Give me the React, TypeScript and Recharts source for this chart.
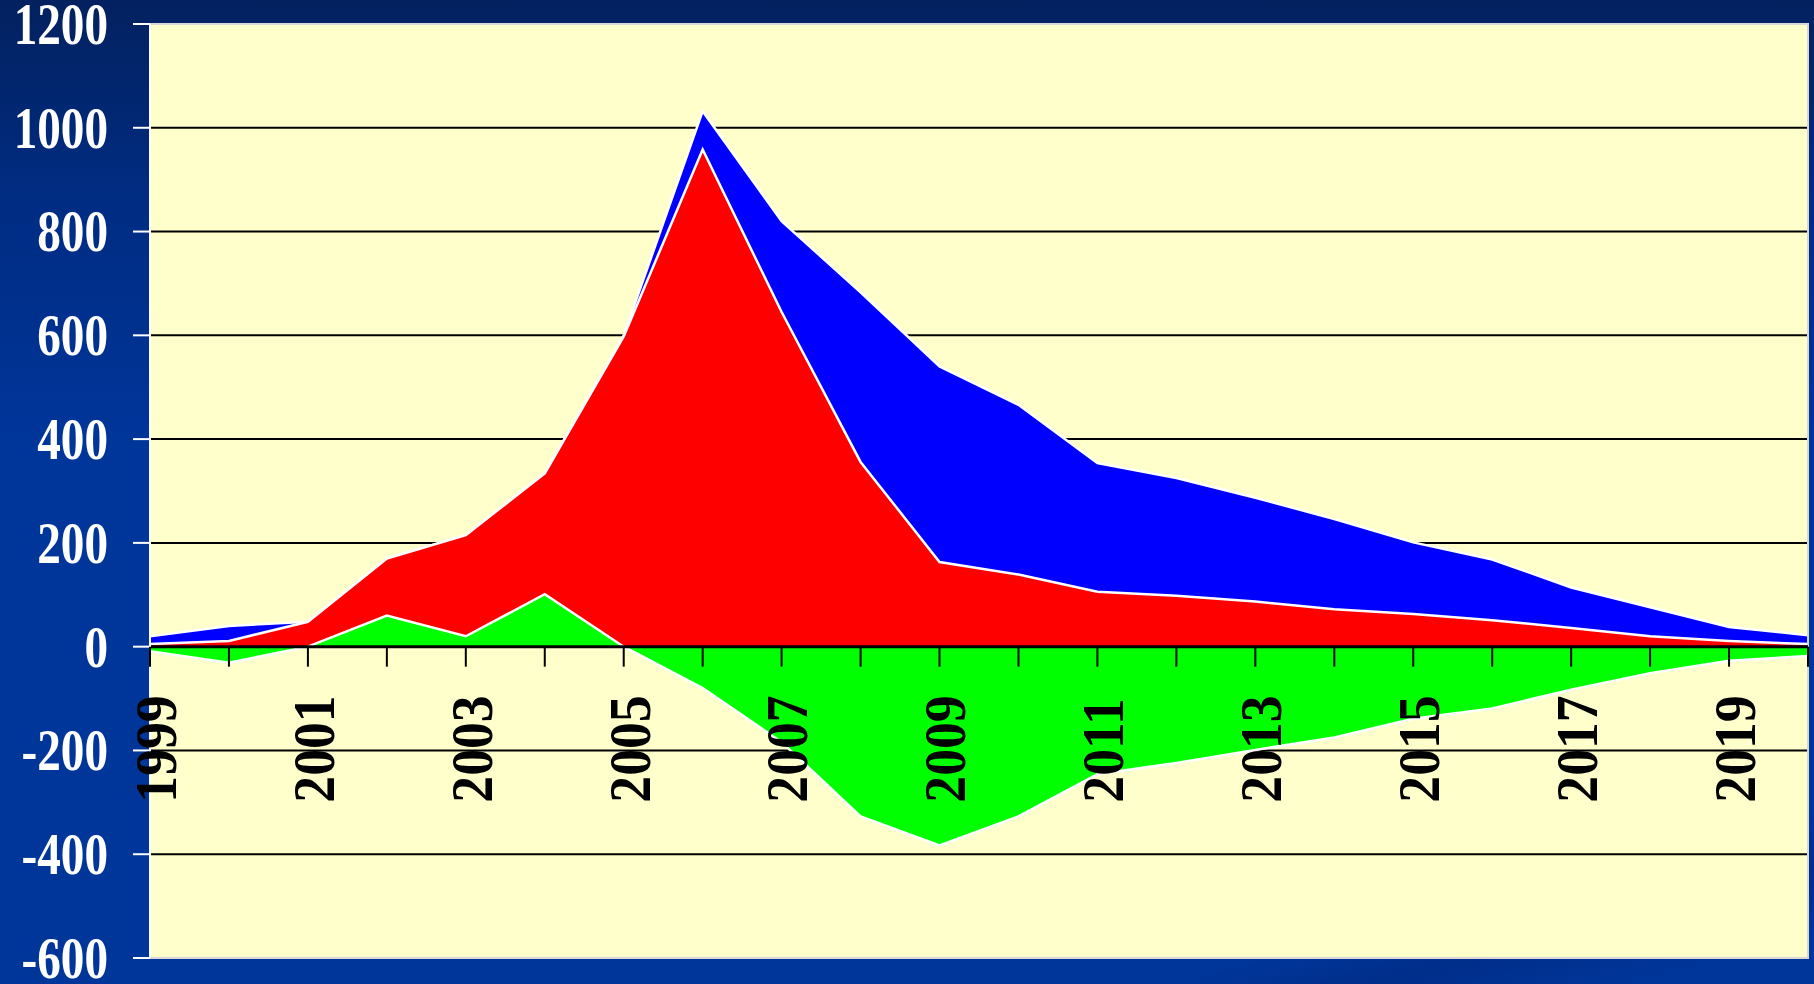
import React from 'react';
import { AreaChart, Area, XAxis, YAxis, CartesianGrid, ReferenceLine, ReferenceArea } from 'recharts';

const years = [1999, 2000, 2001, 2002, 2003, 2004, 2005, 2006, 2007, 2008, 2009, 2010, 2011, 2012, 2013, 2014, 2015, 2016, 2017, 2018, 2019, 2020];
const blueSeries = [20, 40, 48, 170, 215, 334, 600, 1032, 820, 683, 540, 466, 354, 325, 287, 246, 201, 168, 114, 76, 38, 22];
const redSeries = [5, 11, 48, 170, 215, 334, 598, 958, 645, 356, 163, 139, 106, 98, 87, 72, 63, 51, 36, 20, 11, 5];
const greenSeries = [-9, -31, 0, 60, 20, 101, 0, -80, -184, -327, -383, -327, -246, -224, -199, -175, -139, -119, -83, -51, -27, -18];
const yTicks = [-600, -400, -200, 0, 200, 400, 600, 800, 1000, 1200];
const gridValues = [-400, -200, 200, 400, 600, 800, 1000];
const labelYears = [1999, 2001, 2003, 2005, 2007, 2009, 2011, 2013, 2015, 2017, 2019];

const W = 1814;
const H = 984;
const MARGIN = { top: 24, right: 6, bottom: 0, left: 0 };
const X_AXIS_H = 26;
const Y_AXIS_W = 150;
const Y_MIN = -600;
const Y_MAX = 1200;
const PLOT_H = H - MARGIN.top - MARGIN.bottom - X_AXIS_H;
const ZERO_Y = MARGIN.top + (PLOT_H * (Y_MAX - 0)) / (Y_MAX - Y_MIN);

const FONT = "'Liberation Serif', 'Times New Roman', Times, serif";

const data = years.map((year, i) => ({
  year,
  blue: blueSeries[i],
  red: redSeries[i],
  green: greenSeries[i],
}));

const XTick = (props: any) => {
  const { x, payload } = props;
  const year = payload.value;
  return (
    <g>
      <line x1={x} x2={x} y1={ZERO_Y} y2={ZERO_Y + 20} stroke="#000" strokeWidth={2} />
      {labelYears.includes(year) && (
        <text
          transform={`translate(${x + 6}, ${ZERO_Y + 156}) rotate(-90) scale(0.91, 1)`}
          x={0}
          y={0}
          textAnchor="start"
          dominantBaseline="central"
          fontFamily={FONT}
          fontWeight="bold"
          fontSize={59}
          fill="#000"
        >
          {year}
        </text>
      )}
    </g>
  );
};

const YTick = (props: any) => {
  const { x, y, payload } = props;
  return (
    <text
      transform={`translate(${x - 23}, ${y}) scale(0.8, 1)`}
      x={0}
      y={0}
      textAnchor="end"
      dominantBaseline="central"
      fontFamily={FONT}
      fontWeight="bold"
      fontSize={59}
      fill="#fff"
    >
      {payload.value}
    </text>
  );
};

export default function App() {
  return (
    <div
      style={{
        position: 'absolute',
        left: 0,
        top: 0,
        width: W,
        height: H,
        overflow: 'hidden',
        background:
          'linear-gradient(165deg, rgba(0,0,0,0) 88%, rgba(0,30,110,0.35) 92%, rgba(0,0,0,0) 97%), linear-gradient(180deg, #03215f 0%, #002c82 20%, #00359a 45%, #00369a 100%)',
      }}
    >
      <AreaChart width={W} height={H} data={data} margin={MARGIN}>
        <CartesianGrid
          fill="#FFFFCC"
          vertical={false}
          horizontal={true}
          horizontalValues={gridValues}
          stroke="#000"
          strokeWidth={2}
          strokeOpacity={1}
        />
        <Area
          type="linear"
          dataKey="blue"
          baseValue={0}
          fill="#0000FF"
          fillOpacity={1}
          stroke="#FFFFFF"
          strokeWidth={2.5}
          dot={false}
          activeDot={false}
          isAnimationActive={false}
        />
        <Area
          type="linear"
          dataKey="red"
          baseValue={0}
          fill="#FF0000"
          fillOpacity={1}
          stroke="#FFFFFF"
          strokeWidth={2.5}
          dot={false}
          activeDot={false}
          isAnimationActive={false}
        />
        <Area
          type="linear"
          dataKey="green"
          baseValue={0}
          fill="#00FF00"
          fillOpacity={1}
          stroke="#FFFFFF"
          strokeWidth={2.5}
          dot={false}
          activeDot={false}
          isAnimationActive={false}
        />
        <ReferenceLine y={0} stroke="#000" strokeWidth={3} />
        <ReferenceArea x1={1999} x2={2020} y1={Y_MIN} y2={Y_MAX} fill="none" fillOpacity={0} stroke="#d8d8d8" strokeWidth={2} />
        <XAxis
          dataKey="year"
          type="number"
          domain={[1999, 2020]}
          ticks={years}
          interval={0}
          height={X_AXIS_H}
          axisLine={false}
          tickLine={false}
          tick={<XTick />}
          allowDataOverflow
        />
        <YAxis
          type="number"
          domain={[Y_MIN, Y_MAX]}
          ticks={yTicks}
          interval={0}
          width={Y_AXIS_W}
          tickSize={17}
          tickLine={{ stroke: '#fff', strokeWidth: 2 }}
          axisLine={{ stroke: '#fff', strokeWidth: 2 }}
          tick={<YTick />}
          allowDataOverflow
        />
      </AreaChart>
    </div>
  );
}
